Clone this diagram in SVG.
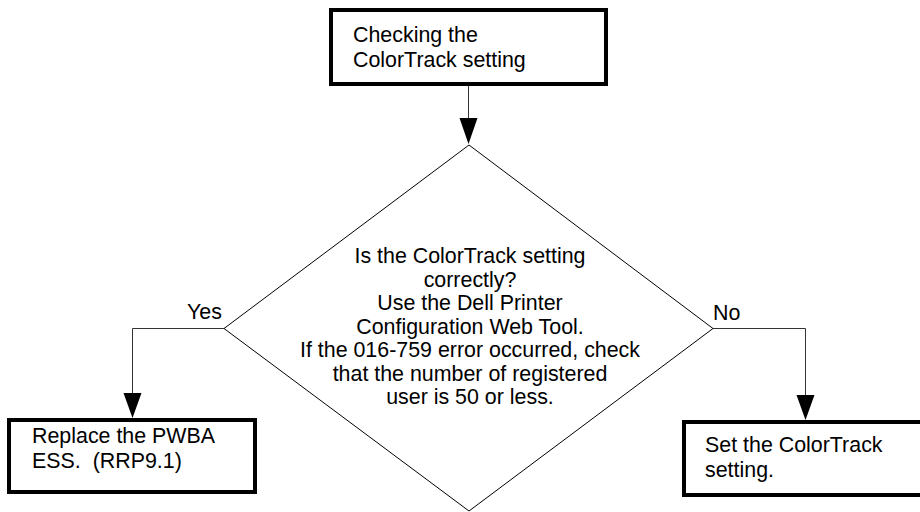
<svg xmlns="http://www.w3.org/2000/svg" width="920" height="512" viewBox="0 0 920 512">
<defs>
<style>
text{font-family:"Liberation Sans",Arial,sans-serif;font-size:21.4px;fill:#000}
.box{fill:#fff;stroke:#000;stroke-width:4}
.dia{fill:#fff;stroke:#000;stroke-width:1}
.conn{fill:none;stroke:#333;stroke-width:1}
.head{fill:#000}
</style>
</defs>
<rect width="920" height="512" fill="#fff"/>
<g id="connectors">
<path class="conn" d="M468.5,86 V120"/>
<path class="head" d="M459.5,118 L477.5,118 L468.5,144 Z"/>
<path class="conn" d="M224,328.5 H132.5 V394"/>
<path class="head" d="M123.5,393 L141.5,393 L132.5,418 Z"/>
<path class="conn" d="M713,328.5 H805.5 V396"/>
<path class="head" d="M796.5,395 L814.5,395 L805.5,420 Z"/>
</g>
<g id="start">
<rect class="box" x="331" y="10" width="275" height="74"/>
<text x="353" y="41.5">Checking the</text>
<text x="353" y="66.5">ColorTrack setting</text>
</g>
<g id="decision">
<polygon class="dia" points="469,145 713,328.5 469,511 224,328.5"/>
<text text-anchor="middle" x="470" y="263">Is the ColorTrack setting</text>
<text text-anchor="middle" x="470" y="286.5">correctly?</text>
<text text-anchor="middle" x="470" y="310">Use the Dell Printer</text>
<text text-anchor="middle" x="470" y="333.5">Configuration Web Tool.</text>
<text text-anchor="middle" x="470" y="357">If the 016-759 error occurred, check</text>
<text text-anchor="middle" x="470" y="380.5">that the number of registered</text>
<text text-anchor="middle" x="470" y="404">user is 50 or less.</text>
</g>
<g id="labels">
<text x="187" y="319">Yes</text>
<text x="713" y="320">No</text>
</g>
<g id="replace">
<rect class="box" x="9" y="420" width="246" height="72"/>
<text x="32" y="443">Replace the PWBA</text>
<text x="32" y="468" xml:space="preserve">ESS.  (RRP9.1)</text>
</g>
<g id="set">
<rect class="box" x="684" y="422" width="260" height="73"/>
<text x="705" y="452">Set the ColorTrack</text>
<text x="705" y="477">setting.</text>
</g>
</svg>
